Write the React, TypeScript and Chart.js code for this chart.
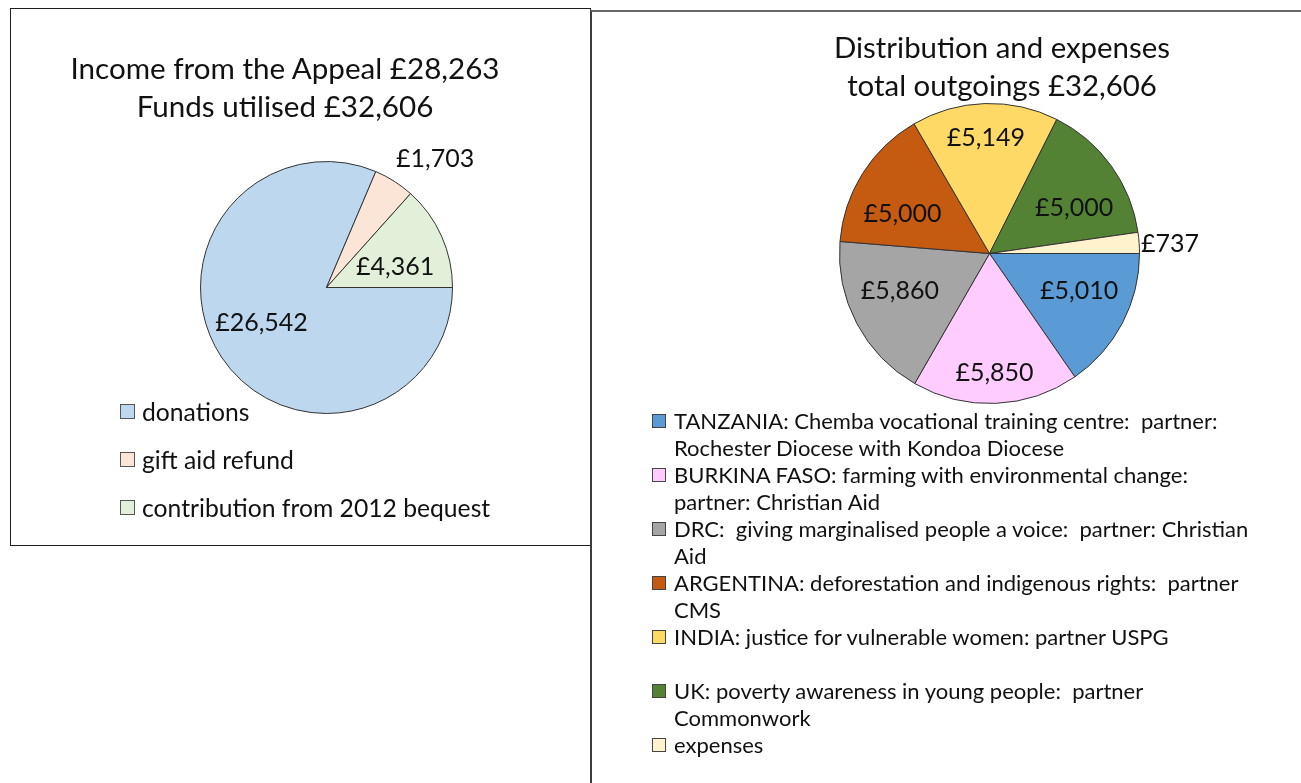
import React, { useEffect, useRef } from 'react';
import { Chart, registerables } from 'chart.js';

Chart.register(...registerables);

const FONT = 'Lato, "Open Sans", sans-serif';

// ---- Data: income chart ----
const incomeTitle = ['Income from the Appeal £28,263', 'Funds utilised £32,606'];
const incomeCategories = ['donations', 'gift aid refund', 'contribution from 2012 bequest'];
const incomeValues = [26542, 1703, 4361];
const incomeColors = ['#BDD7EE', '#FBE5D6', '#E2F0D9'];

// ---- Data: distribution chart ----
const outTitle = ['Distribution and expenses', 'total outgoings £32,606'];
const outCategories = [
  'TANZANIA: Chemba vocational training centre:  partner:\nRochester Diocese with Kondoa Diocese',
  'BURKINA FASO: farming with environmental change:\npartner: Christian Aid',
  'DRC:  giving marginalised people a voice:  partner: Christian\nAid',
  'ARGENTINA: deforestation and indigenous rights:  partner\nCMS',
  'INDIA: justice for vulnerable women: partner USPG\n',
  'UK: poverty awareness in young people:  partner\nCommonwork',
  'expenses',
];
const outValues = [5010, 5850, 5860, 5000, 5149, 5000, 737];
const outColors = ['#5B9BD5', '#FFCCFF', '#A5A5A5', '#C55A11', '#FFD966', '#548235', '#FFF2CC'];

const fmt = (v: number) => '£' + String(v).replace(/\B(?=(\d{3})+(?!\d))/g, ',');

const sliceLabels = {
  id: 'sliceLabels',
  afterDatasetsDraw(chart: any, _args: any, opts: any) {
    const { ctx } = chart;
    const meta = chart.getDatasetMeta(0);
    const ds = chart.data.datasets[0].data as number[];
    const total = ds.reduce((a: number, b: number) => a + b, 0);
    ctx.save();
    ctx.font = `${opts.size}px ${FONT}`;
    ctx.fillStyle = '#111';
    meta.data.forEach((el: any, i: number) => {
      const { x, y, startAngle, endAngle, outerRadius } = el.getProps(
        ['x', 'y', 'startAngle', 'endAngle', 'outerRadius'],
        true
      );
      const mid = (startAngle + endAngle) / 2;
      const c = Math.cos(mid);
      const s = Math.sin(mid);
      const text = fmt(ds[i]);
      if (ds[i] / total < opts.threshold) {
        const px = x + outerRadius * c;
        const py = y + outerRadius * s;
        ctx.textAlign = c >= 0 ? 'left' : 'right';
        ctx.textBaseline = 'middle';
        ctx.fillText(text, px + (c >= 0 ? 2 : -2), py + s * (opts.size / 2 + 17.6) + 3);
      } else {
        const f = opts.base + 0.16 * s * s;
        const k = 0.68 + 0.3 * s * s;
        ctx.textAlign = 'center';
        ctx.textBaseline = 'middle';
        ctx.fillText(text, x + outerRadius * f * c, y + outerRadius * f * s * k + 2);
      }
    });
    ctx.restore();
  },
};

type PieProps = {
  values: number[];
  colors: string[];
  labels: string[];
  width: number;
  height: number;
  padding: { left: number; top: number; right: number; bottom: number };
  base: number;
  labelSize: number;
};

function PieCanvas({ values, colors, labels, width, height, padding, base, labelSize }: PieProps) {
  const ref = useRef<HTMLCanvasElement>(null);
  useEffect(() => {
    const chart = new Chart(ref.current as HTMLCanvasElement, {
      type: 'pie',
      data: {
        labels,
        datasets: [
          {
            data: values,
            backgroundColor: colors,
            borderColor: '#333333',
            borderWidth: 1,
            hoverOffset: 0,
          },
        ],
      },
      options: {
        responsive: false,
        animation: false,
        rotation: 90,
        layout: { padding },
        events: [],
        plugins: {
          legend: { display: false },
          tooltip: { enabled: false },
          title: { display: false },
          // @ts-ignore
          sliceLabels: { base, size: labelSize, threshold: 0.06 },
        },
      },
      plugins: [sliceLabels as any],
    });
    return () => chart.destroy();
  }, []);
  return (
    <canvas
      ref={ref}
      width={width}
      height={height}
      style={{ position: 'absolute', left: 0, top: 0, width, height }}
    />
  );
}

export default function App() {
  return (
    <div
      style={{
        position: 'absolute',
        left: 0,
        top: 0,
        width: 1301,
        height: 783,
        overflow: 'hidden',
        background: '#fff',
        fontFamily: FONT,
        color: '#111',
      }}
    >
      {/* Left panel */}
      <div
        style={{
          position: 'absolute',
          left: 10,
          top: 8,
          width: 581,
          height: 538,
          boxSizing: 'border-box',
          border: '1px solid #1f1f1f',
        }}
      >
        <PieCanvas
          values={incomeValues}
          colors={incomeColors}
          labels={incomeCategories}
          width={579}
          height={536}
          padding={{ left: 189, top: 152, right: 137, bottom: 131 }}
          base={0.57}
          labelSize={25}
        />
        <div
          style={{
            position: 'absolute',
            left: 0,
            top: 40,
            width: 548,
            textAlign: 'center',
            fontSize: 29.6,
            lineHeight: '38px',
          }}
        >
          {incomeTitle.map((t, i) => (
            <div key={i}>{t}</div>
          ))}
        </div>
        <div style={{ position: 'absolute', left: 109, top: 378 }}>
          {incomeCategories.map((c, i) => (
            <div
              key={i}
              style={{ display: 'flex', alignItems: 'center', height: 48, fontSize: 24.7, whiteSpace: 'pre' }}
            >
              <span
                style={{
                  display: 'inline-block',
                  width: 15,
                  height: 15,
                  boxSizing: 'border-box',
                  background: incomeColors[i],
                  border: '1px solid #555',
                  marginRight: 7,
                }}
              />
              {c}
            </div>
          ))}
        </div>
      </div>

      {/* Right panel */}
      <div
        style={{
          position: 'absolute',
          left: 590,
          top: 10,
          width: 711,
          height: 773,
          boxSizing: 'border-box',
          borderLeft: '2px solid #3d3d3d',
          borderTop: '2px solid #666',
        }}
      >
        <PieCanvas
          values={outValues}
          colors={outColors}
          labels={outCategories}
          width={709}
          height={771}
          padding={{ left: 247, top: 91, right: 161, bottom: 379 }}
          base={0.64}
          labelSize={25}
        />
        <div
          style={{
            position: 'absolute',
            left: 160,
            top: 16,
            width: 500,
            textAlign: 'center',
            fontSize: 29.4,
            lineHeight: '38px',
          }}
        >
          {outTitle.map((t, i) => (
            <div key={i}>{t}</div>
          ))}
        </div>
        <div style={{ position: 'absolute', left: 60, top: 395 }}>
          {outCategories.map((c, i) => {
            const lines = c.split('\n');
            return (
              <div key={i} style={{ display: 'flex', alignItems: 'flex-start' }}>
                <div style={{ height: 27, display: 'flex', alignItems: 'center' }}>
                  <span
                    style={{
                      display: 'inline-block',
                      width: 14,
                      height: 14,
                      boxSizing: 'border-box',
                      background: outColors[i],
                      border: '1px solid #444',
                      marginRight: 8,
                    }}
                  />
                </div>
                <div>
                  {lines.map((l, j) => (
                    <div key={j} style={{ height: 27, lineHeight: '27px', fontSize: 22, whiteSpace: 'pre' }}>
                      {l}
                    </div>
                  ))}
                </div>
              </div>
            );
          })}
        </div>
      </div>
    </div>
  );
}
